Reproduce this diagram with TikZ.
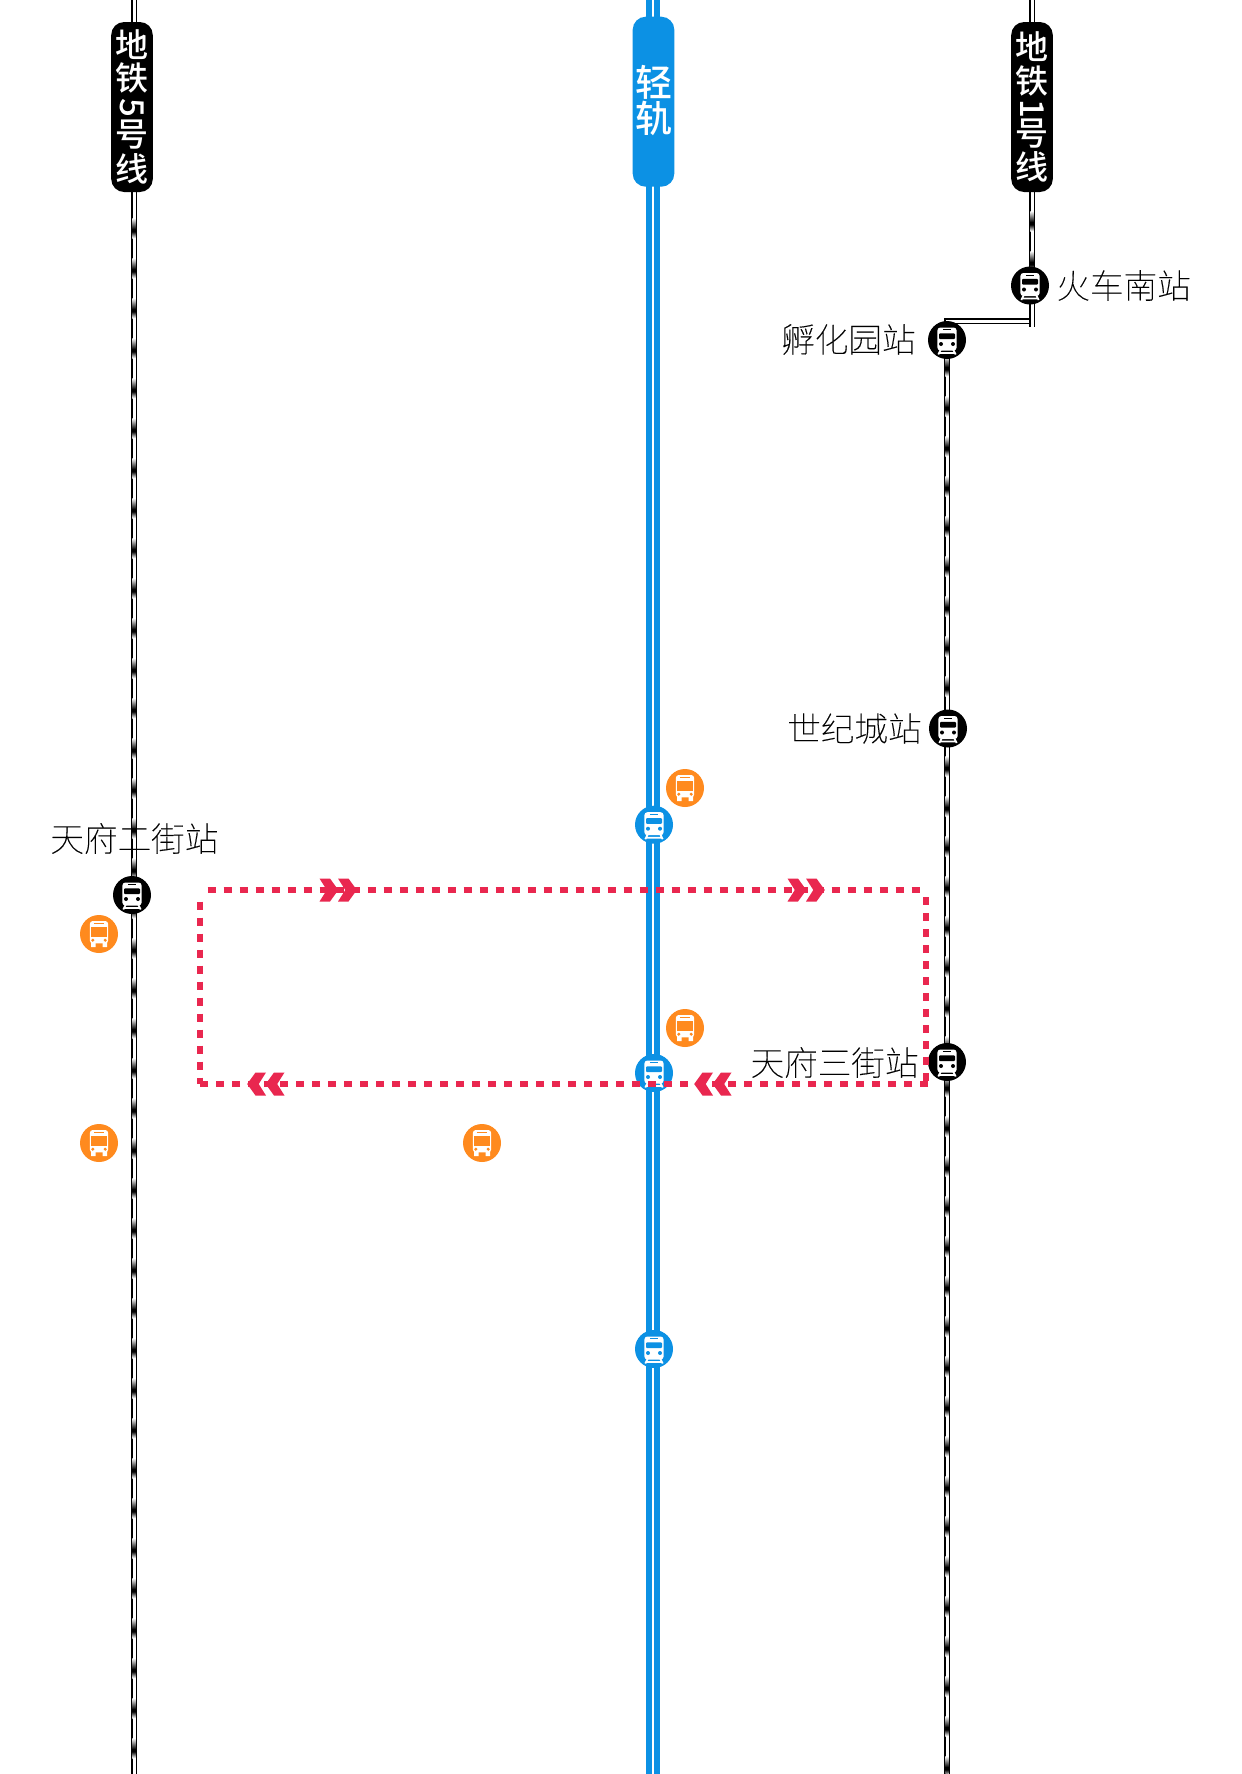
\documentclass[tikz,border=0pt]{standalone}
\usepackage{fontspec}
\usepackage{graphicx}
\setmainfont{Noto Sans CJK SC}
\newfontfamily\cjklabel[FakeBold=0.4]{Noto Sans CJK SC Thin}
\newfontfamily\cjkpill{Noto Sans CJK SC Medium}
\definecolor{lrtblue}{HTML}{0C91E4}
\definecolor{busorange}{HTML}{FF8A1E}
\definecolor{loopred}{HTML}{E9274F}
\newcommand{\rotdigit}[1]{\smash{\rotatebox[origin=c]{-90}{#1}}}
\newcommand{\pillfont}[1]{\cjkpill\fontsize{#1}{15}\selectfont\lineskiplimit=-100pt\relax}
\tikzset{
  x=0.5pt,y=-0.5pt,
  metroouter/.style={black,line width=2.7pt},
  metroinner/.style={white,line width=1.5pt},
  dot/.style={circle,minimum size=19pt,inner sep=0pt,fill=#1},
  pill/.style={fill=#1,rounded corners=6.5pt,minimum width=20.8pt,minimum height=85pt,inner sep=0pt,text=white,align=center,
     font=\pillfont{16.5}},
  stationlabel/.style={inner sep=0pt,text=black,font=\cjklabel\fontsize{16.8}{16.8}\selectfont},
  loopdash/.style={loopred,line width=3pt,dash pattern=on 4pt off 4pt},
  trainicon/.pic={
    \fill[white,rounded corners=1.5pt] (-9.6,-12.5) rectangle (9.6,10.5);
    \draw[white,line width=0.9pt] (-6,9) -- (-8.7,14.5) (6,9) -- (8.7,14.5) (-8.3,13) -- (8.3,13);
    \draw[#1,line width=0.6pt] (-4.2,-10.2) -- (4.2,-10.2);
    \fill[#1,rounded corners=0.5pt] (-8,-6.6) rectangle (8,-0.8);
    \fill[#1] (-6,4) circle (1pt) (6,4) circle (1pt);
  },
  busicon/.pic={
    \fill[white,rounded corners=1.5pt] (-9.2,-13) rectangle (9.2,9.3);
    \fill[white] (-8,8) rectangle (-3.5,13) (3.5,8) rectangle (8,13);
    \draw[#1,line width=0.6pt] (-5.2,-10.5) -- (5.2,-10.5);
    \fill[#1] (-7.6,-7.2) rectangle (7.6,3.2);
    \fill[#1] (-6.2,6.2) circle (0.85pt) (6.2,6.2) circle (0.85pt);
  },
  chevrons/.pic={
    \foreach \d in {0,18.5}{
      \fill[loopred,xscale=#1] (\d-9.5,-11.5) -- (\d+1,-11.5) -- (\d+9.3,0) -- (\d+1,11.5) -- (\d-9.5,11.5) -- (\d-2.2,0) -- cycle;
    }
  },
}
\newcommand{\blotch}[2]{%
  \shade[top color=white,bottom color=black] (#1-1.6,#2-12) rectangle (#1+1.6,#2-1);
  \fill[black] (#1-1.6,#2-1.05) rectangle (#1+1.6,#2+1.55);
  \shade[top color=black,bottom color=white] (#1-1.6,#2+1.5) rectangle (#1+1.6,#2+8);
}
\begin{document}
\begin{tikzpicture}
\useasboundingbox (0,0) rectangle (1242,1774);
\fill[white] (0,0) rectangle (1242,1774);

% line end points
\coordinate (ltop) at (134,0);
\coordinate (lbot) at (134,1774);
\coordinate (utop) at (1032,0);
\coordinate (ubot) at (1032,326.5);
\coordinate (hstart) at (1031,321);
\coordinate (hcorner) at (947,321);
\coordinate (rbot) at (947,1774);
\coordinate (btop) at (653,0);
\coordinate (bbot) at (653,1774);

% metro lines
\draw[metroouter] (ltop) -- (lbot);
\draw[metroinner] (ltop) -- (lbot);
\draw[metroouter] (utop) -- (ubot);
\draw[metroinner] (utop) -- ([yshift=-0.5pt]ubot);
\draw[metroouter] (hstart) -- (hcorner) -- (rbot);
\draw[metroinner] ([xshift=-0.8pt]hstart) -- (hcorner) -- (rbot);
\foreach \k in {0,...,38}{
  \pgfmathsetmacro{\yy}{230+40*\k}
  \blotch{134}{\yy}
}
\foreach \k in {0,...,35}{
  \pgfmathsetmacro{\yy}{368+40*\k}
  \blotch{947}{\yy}
}
\blotch{1032}{223}
\blotch{1032}{263}

% light rail line
\draw[lrtblue,line width=7pt] (btop) -- (bbot);
\draw[white,line width=1pt] (btop) -- (bbot);

% pills
\node[pill=black] (p5) at (132,107) {地\\[1.5pt]铁\\[-0.5pt]\rotdigit{5}\\[-1.5pt]号\\[2.5pt]线};
\node[pill=black] (p1) at (1032,107) {地\\[2pt]铁\\[-1.5pt]\rotdigit{1}\\[-2.5pt]号\\[2pt]线};
\node[pill=lrtblue,font=\pillfont{18.5}] (pl) at (653.5,101.7) {\raisebox{3pt}{轻}\\[3pt]\raisebox{3pt}{轨}};

% metro stations
\foreach \n/\x/\y in {sa/1030/285.5,sb/947/340,sc/948/728.5,sd/947/1062,se/132/895}{
  \node[dot=black] (\n) at (\x,\y) {};
  \pic at (\n) {trainicon=black};
}
% light rail stations
\foreach \n/\x/\y in {la/654/824.7,lb/654/1073,lc/654/1349}{
  \node[dot=lrtblue] (\n) at (\x,\y) {};
  \pic at (\n) {trainicon=lrtblue};
}
% bus stops
\foreach \n/\x/\y in {ba/685/788,bb/685/1028,bc/99/934,bd/99/1143,be/482/1143}{
  \node[dot=busorange] (\n) at (\x,\y) {};
  \pic at (\n) {busicon=busorange};
}

% station names
\node[stationlabel,anchor=west] (ta) at (1056,285.5) {火车南站};
\node[stationlabel,anchor=east] (tb) at (916,339.5) {孵化园站};
\node[stationlabel,anchor=east] (tc) at (922,728.5) {世纪城站};
\node[stationlabel,anchor=east] (td) at (919,1062.5) {天府三街站};
\node[stationlabel,anchor=west] (te) at (50,838.5) {天府二街站};

% loop
\coordinate (c1) at (207.7,890);
\coordinate (c2) at (926,890);
\coordinate (c3) at (200,901.7);
\coordinate (c4) at (200,1084);
\coordinate (c5) at (926,897);
\coordinate (c6) at (926,1084);
\coordinate (c7) at (928,1084);
\coordinate (c8) at (200,1084);
\draw[loopdash] (c1) -- (c2);
\draw[loopdash] (c3) -- (c4);
\draw[loopdash] (c5) -- (c6);
\draw[loopdash] (c7) -- (c8);
\coordinate (ar1) at (329,890);
\coordinate (ar2) at (797,890);
\coordinate (ar3) at (275,1084);
\coordinate (ar4) at (722,1084);
\pic at (ar1) {chevrons=1};
\pic at (ar2) {chevrons=1};
\pic at (ar3) {chevrons=-1};
\pic at (ar4) {chevrons=-1};
\end{tikzpicture}
\end{document}
